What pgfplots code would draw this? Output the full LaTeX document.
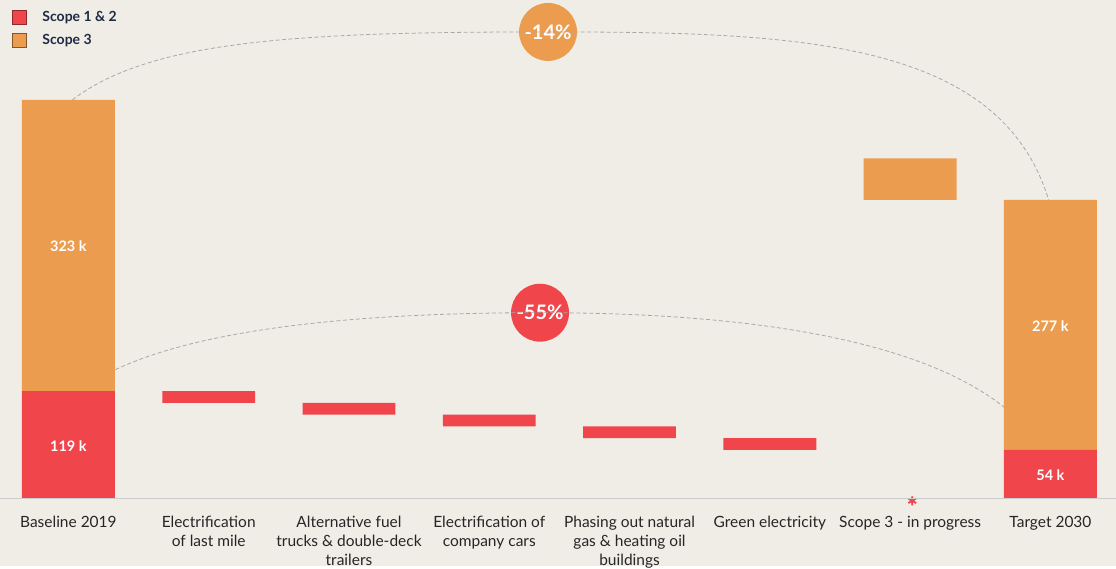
\documentclass[border=0pt]{standalone}
\usepackage{pgfplots}
\pgfplotsset{compat=1.18}
\usepackage{fontspec}
\setmainfont{Lato}
\newfontfamily\astfont[FakeBold=2.5]{Lato}
\definecolor{bg}{HTML}{F0EDE6}
\definecolor{sred}{HTML}{F0454B}
\definecolor{sorange}{HTML}{EC9C4F}
\definecolor{navy}{HTML}{1F2A44}
\definecolor{txt}{HTML}{262626}
\definecolor{arc}{HTML}{A8A8A8}
\tikzset{vl/.style={text=white, font=\bfseries\fontsize{14.5}{16}\selectfont},
  cl/.style={anchor=north, align=center, text=txt, font=\fontsize{15.5}{19}\selectfont, inner sep=0pt}}
\begin{document}
\begin{tikzpicture}
\fill[bg] (0,0) rectangle (1116pt,567pt);
\begin{axis}[
  at={(0,0)}, anchor=south west,
  width=1116pt, height=567pt, scale only axis,
  xmin=-0.484, xmax=7.464, ymin=-75.3, ymax=552.6,
  axis lines=none, clip=false,
  ybar stacked, bar width=0.662,
  legend style={at={(rel axis cs:0,1)}, anchor=north west, draw=none, fill=none,
    font=\bfseries\fontsize{14}{16}\selectfont, text=navy,
    row sep=7.5pt, xshift=8pt, yshift=-7pt, cells={anchor=west}},
  legend image code/.code={\draw[#1] (0pt,-7pt) rectangle (14pt,7pt); \path (28pt,0pt);},
  after end axis/.append code={
    \node[vl] at (axis cs:0,280.2) {323 k};
    \node[vl] at (axis cs:0,57.6) {119 k};
    \node[vl] at (axis cs:7,191.6) {277 k};
    \node[vl] at (axis cs:7,25.5) {54 k};
  },
]
\draw[color=black!20, line width=1pt] (axis cs:-0.484,0) -- (axis cs:7.464,0);
% invisible base
\addplot[draw=none, fill=none, forget plot] coordinates {(0,0) (1,106) (2,93) (3,80) (4,67) (5,54) (6,331) (7,0)};
\addplot[fill=sred, draw=none, forget plot] coordinates {(0,119) (1,13) (2,13) (3,13) (4,13) (5,13) (6,0) (7,54)};
\addplot[fill=sorange, draw=none, forget plot] coordinates {(0,323) (1,0) (2,0) (3,0) (4,0) (5,0) (6,46) (7,277)};
\addlegendimage{fill=sred, draw=sred!60!black, line width=0.8pt}
\addlegendentry{Scope 1 \& 2}
\addlegendimage{fill=sorange, draw=sorange!55!black, line width=0.8pt}
\addlegendentry{Scope 3}
% arcs
\draw[arc, dash pattern=on 4pt off 2.5pt, line width=0.8pt]
  (axis cs:0.0285,441.9) .. controls (axis cs:0.584,508.3) and (axis cs:1.652,517.2) .. (axis cs:3.419,517.2)
  .. controls (axis cs:5.214,517.2) and (axis cs:6.638,508.3) .. (axis cs:6.987,331.1);
\draw[arc, dash pattern=on 4pt off 2.5pt, line width=0.8pt]
  (axis cs:0.335,142.9) .. controls (axis cs:0.940,187.2) and (axis cs:2.009,206.0) .. (axis cs:3.362,206.0)
  .. controls (axis cs:4.858,206.0) and (axis cs:6.068,176.1) .. (axis cs:6.674,100.8);
\node[circle, fill=sorange, minimum size=58pt, inner sep=0pt, text=white, font=\bfseries\fontsize{20}{22}\selectfont] at (axis cs:3.419,517.2) {-14\%};
\node[circle, fill=sred, minimum size=58pt, inner sep=0pt, text=white, font=\bfseries\fontsize{20}{22}\selectfont] at (axis cs:3.362,206.0) {-55\%};
% asterisk
\node[text=sred, inner sep=0pt, anchor=base, font=\astfont\fontsize{26}{26}\selectfont] at (axis cs:6.015,-19.5) {\smash{*}};
% category labels
\node[cl] at (axis cs:0,-19) {Baseline 2019};
\node[cl] at (axis cs:1,-19) {Electrification\\of last mile};
\node[cl] at (axis cs:2,-19) {Alternative fuel\\trucks \& double-deck\\trailers};
\node[cl] at (axis cs:3,-19) {Electrification of\\company cars};
\node[cl] at (axis cs:4,-19) {Phasing out natural\\gas \& heating oil\\buildings};
\node[cl] at (axis cs:5,-19) {Green electricity};
\node[cl] at (axis cs:6,-19) {Scope 3 - in progress};
\node[cl] at (axis cs:7,-19) {Target 2030};
\end{axis}
\end{tikzpicture}
\end{document}
